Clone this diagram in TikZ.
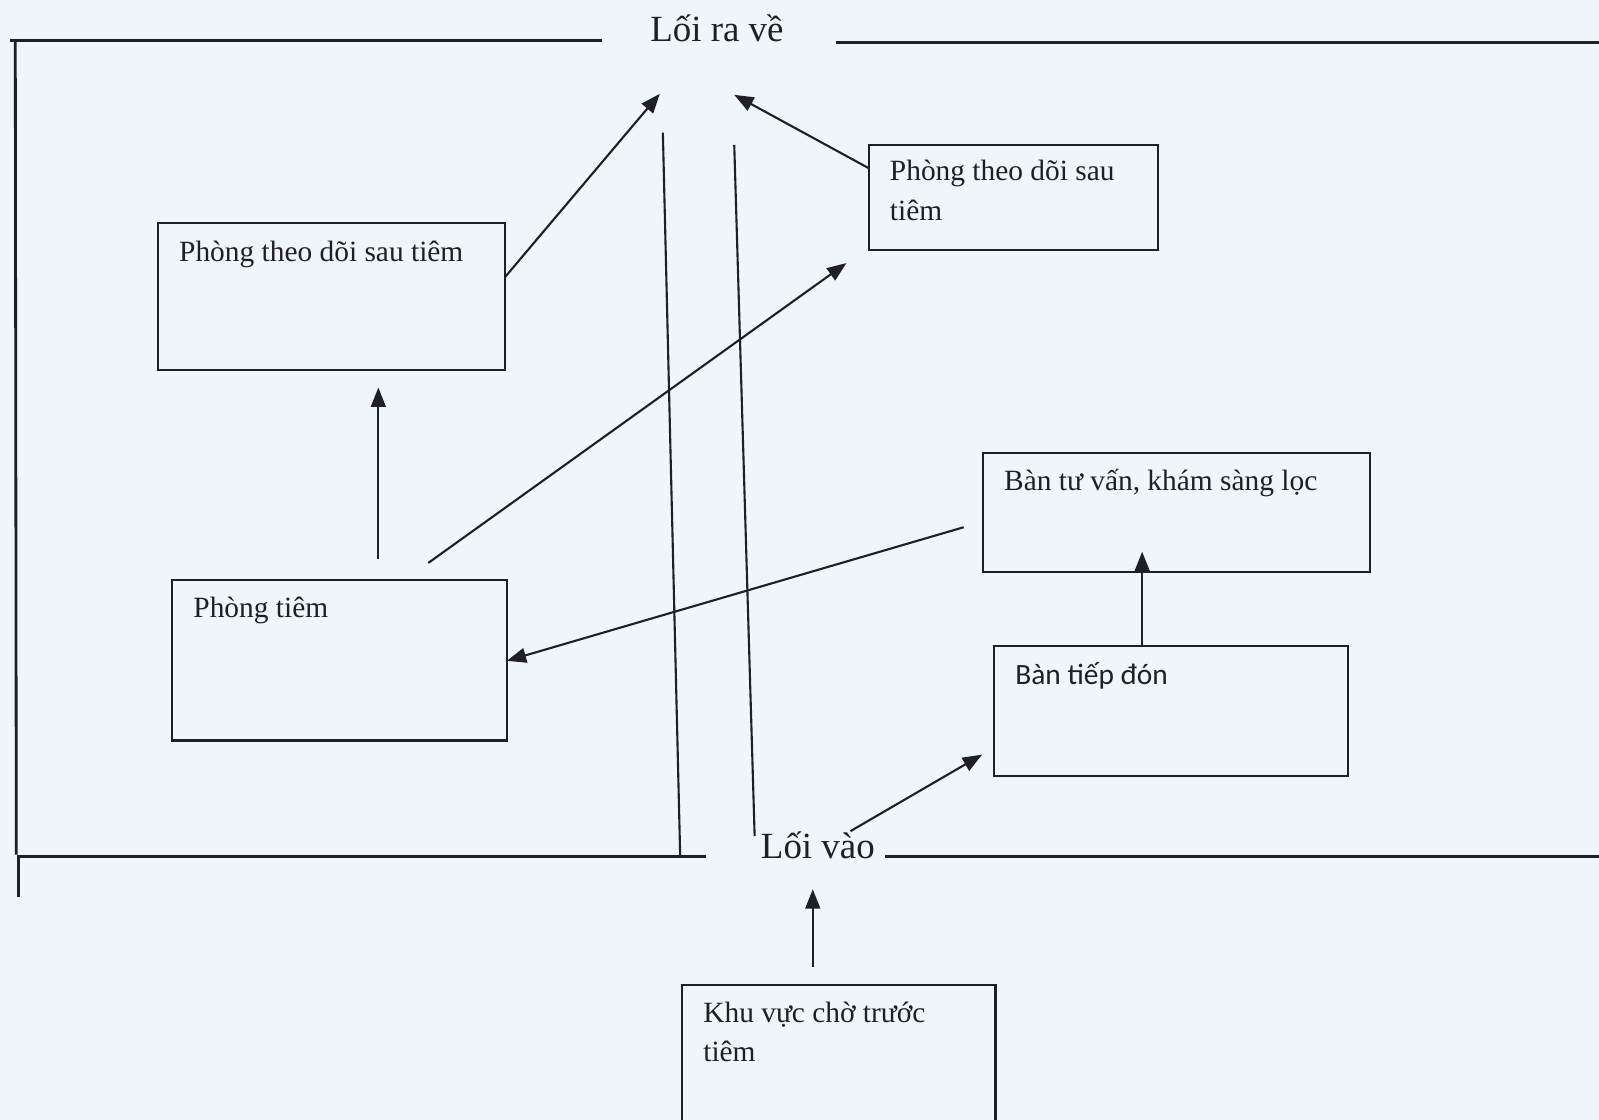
\documentclass[tikz,border=0pt]{standalone}
\usepackage{fontspec}
\setmainfont{Liberation Serif}
\newfontfamily\sansf{Carlito}
\usetikzlibrary{arrows.meta}
\definecolor{paper}{RGB}{239,245,251}
\definecolor{ink}{RGB}{30,32,36}
\tikzset{
  wall/.style={draw=ink, line width=0.8pt},
  room/.style={draw=ink, line width=0.6pt},
  roombox/.style={draw=ink, line width=0.6pt, anchor=north west, inner sep=0pt},
  flow/.style={draw=ink, line width=0.6pt, -{Triangle[length=5.5pt,width=4.2pt]}},
  lbl/.style={anchor=base west, inner sep=0pt, font=\fontsize{8.36}{11}\selectfont, text=ink},
  door/.style={anchor=base, inner sep=0pt, font=\fontsize{10.5}{12}\selectfont, text=ink}
}
\begin{document}
\begin{tikzpicture}[x=0.0102cm, y=-0.0102cm]
\fill[paper] (0,0) rectangle (1568,1098);
\useasboundingbox (0,0) rectangle (1568,1098);
% walls
\draw[wall] (10,40) -- (590,40);
\draw[wall] (820,42) -- (1568,42);
\draw[wall] (15,40) -- (16,838);
\draw[wall] (18,838) -- (18,880);
\draw[wall] (18,840) -- (692,840);
\draw[wall] (868,840) -- (1568,840);
% corridor lines
\draw[room] (650,130) -- (667,840);
\draw[room] (720,142) -- (740,820);
% door labels
\node[door] (exit) at (703,41) {Lối ra về};
\node[door] (entry) at (802,842) {Lối vào};
% rooms
\node[roombox, minimum width=3.468cm, minimum height=1.469cm] (A) at (154,218) {};
\node[lbl] (Atext) at (175,256) {Phòng theo dõi sau tiêm};
\node[roombox, minimum width=2.887cm, minimum height=1.051cm] (B) at (851,141) {};
\node[lbl] (Btext1) at (872,177) {Phòng theo dõi sau};
\node[lbl] (Btext2) at (872,216) {tiêm};
\node[roombox, minimum width=3.866cm, minimum height=1.193cm] (C) at (963,443) {};
\node[lbl] (Ctext) at (984,481) {Bàn tư vấn, khám sàng lọc};
\node[roombox, minimum width=3.539cm, minimum height=1.306cm] (D) at (974,632) {};
\node[lbl, font=\sansf\fontsize{8.36}{11}\selectfont] (Dtext) at (995,671) {Bàn tiếp đón};
\node[roombox, minimum width=3.346cm, minimum height=1.601cm] (E) at (168,568) {};
\node[lbl] (Etext) at (189,606) {Phòng tiêm};
\node[roombox, minimum width=3.131cm, minimum height=1.7cm] (F) at (668,965) {};
\node[lbl] (Ftext1) at (689,1003) {Khu vực chờ trước};
\node[lbl] (Ftext2) at (689,1041) {tiêm};
% arrow endpoints
\coordinate (a1s) at (495,272); \coordinate (a1e) at (647,92);
\coordinate (a2s) at (852,165); \coordinate (a2e) at (720,93);
\coordinate (a3s) at (371,548); \coordinate (a3e) at (371,380);
\coordinate (a4s) at (420,552); \coordinate (a4e) at (830,258);
\coordinate (a5s) at (945,517); \coordinate (a5e) at (497,648);
\coordinate (a6s) at (1120,632); \coordinate (a6e) at (1120,541);
\coordinate (a7s) at (834,815); \coordinate (a7e) at (963,740);
\coordinate (a8s) at (797,948); \coordinate (a8e) at (797,872);
\draw[flow] (a1s) -- (a1e);
\draw[flow] (a2s) -- (a2e);
\draw[flow] (a3s) -- (a3e);
\draw[flow] (a4s) -- (a4e);
\draw[flow] (a5s) -- (a5e);
\draw[flow] (a6s) -- (a6e);
\draw[flow] (a7s) -- (a7e);
\draw[flow] (a8s) -- (a8e);
\end{tikzpicture}
\end{document}
